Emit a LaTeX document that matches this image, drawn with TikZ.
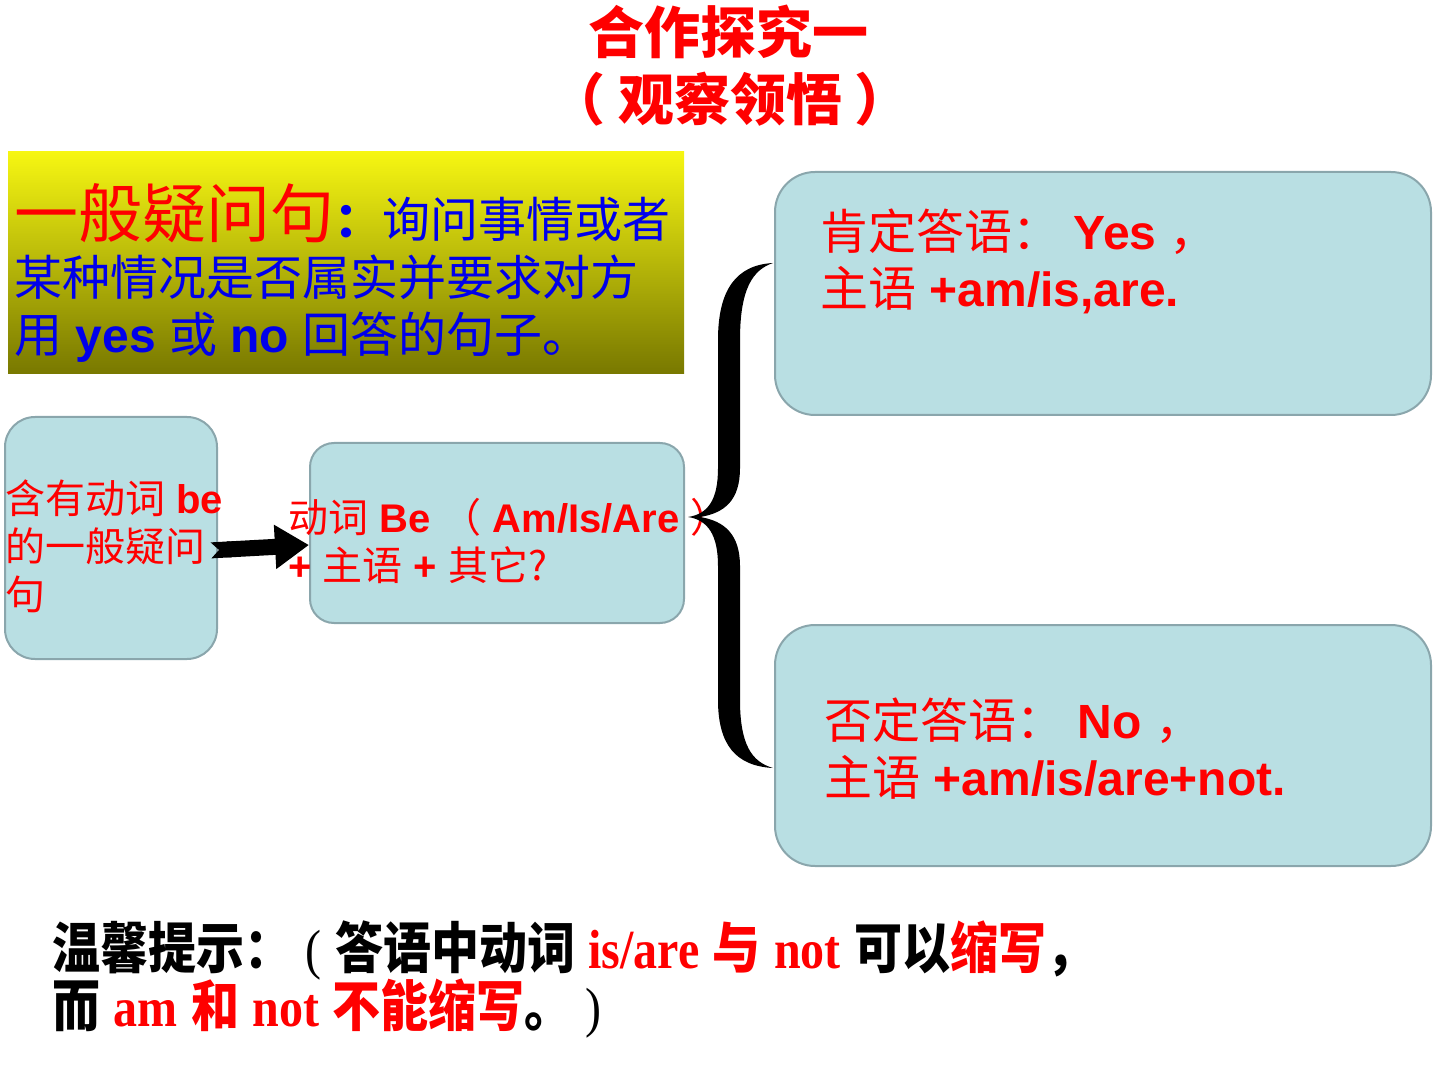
\documentclass[tikz,border=0pt]{standalone}
\usepackage{fontspec}
\usepackage{graphicx}
\setmainfont{Liberation Sans}
\newfontfamily\cjk{Noto Sans CJK SC}
\newfontfamily\tnr{Liberation Serif}
\usetikzlibrary{arrows.meta,positioning}

\definecolor{boxfill}{RGB}{185,223,227}
\definecolor{boxline}{RGB}{138,166,172}
\definecolor{yeltop}{RGB}{246,246,18}
\definecolor{yelbot}{RGB}{120,120,0}
\definecolor{txtred}{RGB}{255,0,0}
\definecolor{txtblue}{RGB}{0,0,235}

\newcommand\zh[1]{{\cjk #1}}
\newcommand\zhb[1]{{\cjk\bfseries #1}}
\newcommand\fs[1]{\fontsize{#1}{#1}\selectfont}

\tikzset{
  ansbox/.style={draw=boxline, fill=boxfill, line width=1pt,
    rounded corners=#1, inner sep=0pt},
  ansbox/.default=20pt,
  txt/.style={anchor=base west, inner sep=0pt, text=txtred},
  notcharrow/.style={line width=8pt, shorten <=-3.5pt,
    {Triangle Cap[reversed]}-{Triangle[length=17pt,width=21pt]}},
}

\begin{document}
\begin{tikzpicture}[x=0.5pt,y=-0.5pt]
  \useasboundingbox (0,0) rectangle (1440,1080);
  % heading
  \node[anchor=base, inner sep=0pt, text=txtred, font=\fs{28}] (title) at (728,54) {\zhb{合作探究一}};
  \node[anchor=base, inner sep=0pt, text=txtred, font=\fs{28}] (subtitle) at (730,121) {\zhb{（ 观察领悟 ）}};
  % definition
  \node[shade, top color=yeltop, bottom color=yelbot, minimum width=338pt,
    minimum height=111pt, inner sep=0pt] (defbox) at (346,263) {};
  \node[txt, font=\fs{32}] (def1) at (14,238) {\zh{一般疑问句}\textcolor{txtblue}{\fs{24}\zhb{：}\zh{询问事情或者}}};
  \node[txt, text=txtblue, font=\fs{24}] (def2) at (14,296) {\zh{某种情况是否属实并要求对方}};
  \node[txt, text=txtblue, font=\fs{24}] (def3) at (14,353) {\zh{用} \textbf{yes} \zh{或} \textbf{no} \zh{回答的句子。}};
  % boxes
  \node[ansbox=15pt, minimum width=106pt, minimum height=121pt] (boxa) at (111,538) {};
  \node[ansbox=12pt, minimum width=187pt, minimum height=90pt] (boxb) at (497,533) {};
  \node[ansbox, minimum width=328pt, minimum height=121.5pt] (yes) at (1103,293.5) {};
  \node[ansbox, minimum width=328pt, minimum height=120.5pt] (no) at (1103,745.5) {};
  \node[txt, font=\fs{20}] (a1) at (5,513) {\zh{含有动词} \textbf{be}};
  \node[txt, font=\fs{20}] (a2) at (5,561) {\zh{的一般疑问}};
  \node[txt, font=\fs{20}] (a3) at (5,609) {\zh{句}};
  \node[txt, font=\fs{20}] (b1) at (288,532) {\zh{动词} \textbf{Be} \zh{（} \textbf{Am/Is/Are} \zh{）}};
  \node[txt, font=\fs{20}] (b2) at (288,580) {\textbf{+} \zh{主语} \textbf{+} \zh{其它?}};
  \node[txt, font=\fs{24}] (yes1) at (820,250) {\zh{肯定答语：} \textbf{Yes} \zh{，}};
  \node[txt, font=\fs{24}] (yes2) at (820,307) {\zh{主语} \textbf{+am/is,are.}};
  \node[txt, font=\fs{24}] (no1) at (824,738) {\zh{否定答语：} \textbf{No} \zh{，}};
  \node[txt, font=\fs{24}] (no2) at (824,795) {\zh{主语} \textbf{+am/is/are+not.}};
  \draw[notcharrow] ([yshift=-6pt]boxa.east) -- ([yshift=-6pt]boxb.west);
  % brace
  \coordinate (brtip) at (688,517);
  \fill (773,263) .. controls (736,265) and (718,290) .. (718,340) -- (718,468)
    .. controls (718,500) and (708,514) .. (brtip)
    .. controls (708,520) and (718,535) .. (718,566) -- (718,700)
    .. controls (718,745) and (736,766) .. (773,768)
    .. controls (752,762) and (740,745) .. (740,700) -- (740,566)
    .. controls (740,535) and (725,521) .. (700,517)
    .. controls (725,513) and (740,500) .. (740,468) -- (740,340)
    .. controls (740,290) and (752,270) .. (773,263) -- cycle;
  % tip
  \node[txt, text=black, font=\fs{24}] (tip1) at (52,968) {\scalebox{1}[1.15]{\zhb{温馨提示：} {\tnr(} \zhb{答语中动词} \textcolor{txtred}{{\tnr\bfseries is/are} \zhb{与} {\tnr\bfseries not}} \zhb{可以}\textcolor{txtred}{\zhb{缩写}}\zhb{，}}};
  \node[txt, text=black, font=\fs{24}] (tip2) at (52,1026) {\scalebox{1}[1.15]{\zhb{而} \textcolor{txtred}{{\tnr\bfseries am} \zhb{和} {\tnr\bfseries not} \zhb{不能缩写}}\zhb{。} {\tnr)}}};
\end{tikzpicture}
\end{document}
